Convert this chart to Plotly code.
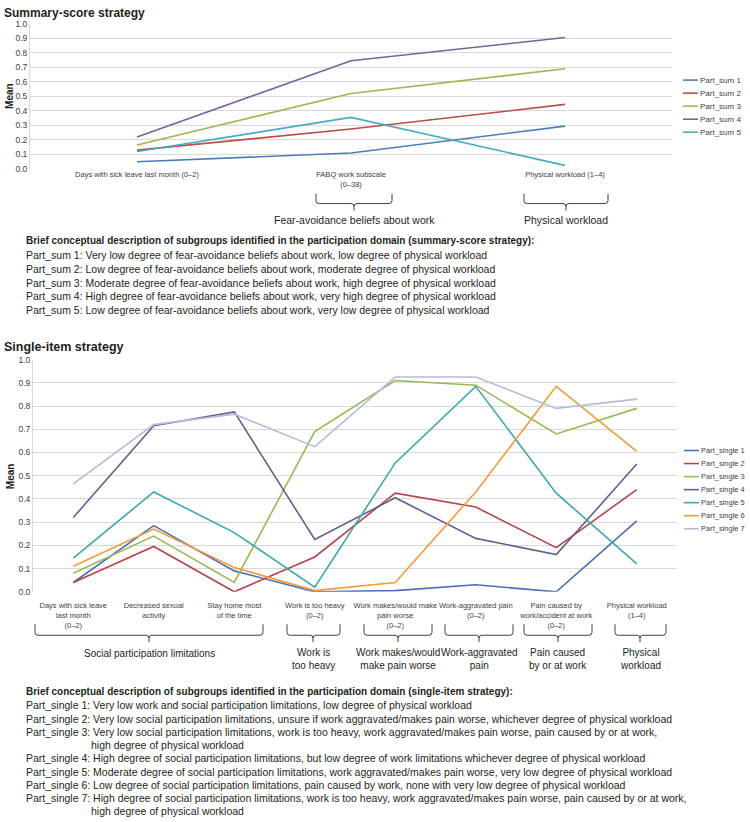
import plotly.graph_objects as go

# ---------------- data ----------------
sum_categories = [
    "Days with sick leave last month (0–2)",
    "FABQ work subscale<br>(0–38)",
    "Physical workload (1–4)",
]
sum_names = ["Part_sum 1", "Part_sum 2", "Part_sum 3", "Part_sum 4", "Part_sum 5"]
part_sum_1 = [0.05, 0.11, 0.295]
part_sum_2 = [0.13, 0.275, 0.445]
part_sum_3 = [0.165, 0.52, 0.69]
part_sum_4 = [0.22, 0.745, 0.905]
part_sum_5 = [0.12, 0.355, 0.025]
sum_series = [part_sum_1, part_sum_2, part_sum_3, part_sum_4, part_sum_5]

single_categories = [
    "Days with sick leave<br>last month<br>(0–2)",
    "Decreased sexual<br>activity",
    "Stay home most<br>of the time",
    "Work is too heavy<br>(0–2)",
    "Work makes/would make<br>pain worse<br>(0–2)",
    "Work-aggravated pain<br>(0–2)",
    "Pain caused by<br>work/accident at work<br>(0–2)",
    "Physical workload<br>(1–4)",
]
single_names = ["Part_single 1", "Part_single 2", "Part_single 3", "Part_single 4",
                "Part_single 5", "Part_single 6", "Part_single 7"]
part_single_1 = [0.04, 0.285, 0.09, 0.0, 0.005, 0.03, 0.0, 0.305]
part_single_2 = [0.04, 0.195, 0.0, 0.15, 0.425, 0.365, 0.19, 0.44]
part_single_3 = [0.08, 0.24, 0.04, 0.69, 0.91, 0.89, 0.68, 0.79]
part_single_4 = [0.32, 0.715, 0.775, 0.225, 0.405, 0.23, 0.16, 0.55]
part_single_5 = [0.145, 0.43, 0.255, 0.02, 0.555, 0.885, 0.425, 0.12]
part_single_6 = [0.11, 0.27, 0.105, 0.005, 0.04, 0.43, 0.885, 0.605]
part_single_7 = [0.465, 0.72, 0.765, 0.625, 0.925, 0.925, 0.79, 0.83]
single_series = [part_single_1, part_single_2, part_single_3, part_single_4,
                 part_single_5, part_single_6, part_single_7]

y_ticks = [0.0, 0.1, 0.2, 0.3, 0.4, 0.5, 0.6, 0.7, 0.8, 0.9, 1.0]

sum_groups = ["Fear-avoidance beliefs about work", "Physical workload"]
single_groups = ["Social participation limitations", "Work is<br>too heavy",
                 "Work makes/would<br>make pain worse", "Work-aggravated<br>pain",
                 "Pain caused<br>by or at work", "Physical<br>workload"]

sum_heading = ("Brief conceptual description of subgroups identified in the participation "
               "domain (summary-score strategy):")
sum_desc = [
    "Part_sum 1: Very low degree of fear-avoidance beliefs about work, low degree of physical workload",
    "Part_sum 2: Low degree of fear-avoidance beliefs about work, moderate degree of physical workload",
    "Part_sum 3: Moderate degree of fear-avoidance beliefs about work, high degree of physical workload",
    "Part_sum 4: High degree of fear-avoidance beliefs about work, very high degree of physical workload",
    "Part_sum 5: Low degree of fear-avoidance beliefs about work, very low degree of physical workload",
]
single_heading = ("Brief conceptual description of subgroups identified in the participation "
                  "domain (single-item strategy):")
single_desc = [
    ("Part_single 1: Very low work and social participation limitations, low degree of physical workload", False),
    ("Part_single 2: Very low social participation limitations, unsure if work aggravated/makes pain worse, whichever degree of physical workload", False),
    ("Part_single 3: Very low social participation limitations, work is too heavy, work aggravated/makes pain worse, pain caused by or at work,", False),
    ("high degree of physical workload", True),
    ("Part_single 4: High degree of social participation limitations, but low degree of work limitations whichever degree of physical workload", False),
    ("Part_single 5: Moderate degree of social participation limitations, work aggravated/makes pain worse, very low degree of physical workload", False),
    ("Part_single 6: Low degree of social participation limitations, pain caused by work, none with very low degree of physical workload", False),
    ("Part_single 7: High degree of social participation limitations, work is too heavy, work aggravated/makes pain worse, pain caused by or at work,", False),
    ("high degree of physical workload", True),
]

# ---------------- style ----------------
sum_colors = ["#4A7EBB", "#BE4B48", "#98B954", "#7D60A0", "#46AAC5"]
single_colors = ["#4A6FB5", "#B8424A", "#98B954", "#665D90", "#3AA8AC", "#F59A3A", "#B3BCDC"]
FONT = "Liberation Sans, Arial, sans-serif"
TXT = "#231F20"
GRID = "#D9D9D9"

W, H = 750, 822


def px(x):
    return x / W


def py(y):
    return 1 - y / H


fig = go.Figure()

for name, vals, col in zip(sum_names, sum_series, sum_colors):
    fig.add_trace(go.Scatter(x=sum_categories, y=vals, name=name, mode="lines",
                             line=dict(color=col, width=1.6), xaxis="x", yaxis="y",
                             showlegend=False))
for name, vals, col in zip(single_names, single_series, single_colors):
    fig.add_trace(go.Scatter(x=single_categories, y=vals, name=name, mode="lines",
                             line=dict(color=col, width=1.6), xaxis="x2", yaxis="y2",
                             showlegend=False))

axis_common_y = dict(range=[0, 1.0], tickvals=y_ticks, tickformat=".1f", showgrid=True,
                     gridcolor=GRID, gridwidth=1, zeroline=False, showline=True,
                     linecolor=GRID, linewidth=1, ticks="",
                     tickfont=dict(family=FONT, size=8.5, color="#404040"))
axis_common_x = dict(type="category", showgrid=False, zeroline=False, showline=False,
                     ticks="", tickangle=0)

fig.update_layout(
    width=W, height=H,
    margin=dict(l=0, r=0, t=0, b=0),
    paper_bgcolor="white", plot_bgcolor="white",
    showlegend=False,
    xaxis=dict(domain=[px(30), px(672)], anchor="y", categoryorder="array",
               categoryarray=sum_categories, range=[-0.5, 2.5],
               tickfont=dict(family=FONT, size=7.5, color="#404040"), **axis_common_x),
    yaxis=dict(domain=[py(166), py(19)], anchor="x", **axis_common_y),
    xaxis2=dict(domain=[px(33), px(677)], anchor="y2", categoryorder="array",
                categoryarray=single_categories, range=[-0.5, 7.5], ticklabelstandoff=8,
                tickfont=dict(family=FONT, size=7.5, color="#404040"), **axis_common_x),
    yaxis2=dict(domain=[py(594), py(359)], anchor="x2", **axis_common_y),
)

annotations = []
shapes = []


def text(x, y, s, size=11, bold=False, anchor="left", color=TXT, angle=0):
    annotations.append(dict(x=px(x), y=py(y), xref="paper", yref="paper", text=s,
                            showarrow=False, xanchor=anchor, yanchor="middle",
                            textangle=angle,
                            font=dict(family=FONT, size=size, color=color,
                                      weight="bold" if bold else "normal")))


# titles
text(2, 8, "Summary-score strategy", size=12, bold=True)
text(2, 346, "Single-item strategy", size=12.5, bold=True)
text(10, 92, "Mean", size=10, bold=True, anchor="center", angle=-90)
text(10, 477, "Mean", size=10, bold=True, anchor="center", angle=-90)


# braces
def brace(x1, x2, xm, y0, y1, y2):
    r = 3
    p = [
        (x1, y0), (x1, y1 - r), (x1, y1), (x1 + r, y1), (xm - r, y1), (xm, y1), (xm, y1 + r),
        (xm, y2), (xm, y1 + r), (xm, y1), (xm + r, y1), (x2 - r, y1), (x2, y1), (x2, y1 - r), (x2, y0)
    ]
    c = [(px(a), py(b)) for a, b in p]
    path = ("M {0[0]},{0[1]} L {1[0]},{1[1]} Q {2[0]},{2[1]} {3[0]},{3[1]} L {4[0]},{4[1]} "
            "Q {5[0]},{5[1]} {6[0]},{6[1]} L {7[0]},{7[1]} M {8[0]},{8[1]} "
            "Q {9[0]},{9[1]} {10[0]},{10[1]} L {11[0]},{11[1]} Q {12[0]},{12[1]} {13[0]},{13[1]} "
            "L {14[0]},{14[1]}").format(*c)
    shapes.append(dict(type="path", path=path, xref="paper", yref="paper",
                       line=dict(color="#404040", width=1)))


brace(316, 392, 354, 191, 201, 208)
brace(524, 608, 566, 191, 201, 208)
text(354, 218, sum_groups[0], size=10.5, anchor="center")
text(566, 218, sum_groups[1], size=10.5, anchor="center")

single_braces = [(35, 263, 149), (287, 340, 313), (364, 432, 398),
                 (445, 513, 479), (524, 592, 558), (615, 666, 640)]
for (a, b, m), g in zip(single_braces, single_groups):
    brace(a, b, m, 627, 638, 645)
    text(m, 662 if "<br>" in g else 656, g, size=10, anchor="center")

# description blocks
text(24, 238, sum_heading, size=10, bold=True)
for i, s in enumerate(sum_desc):
    text(24, 253 + 14 * i, s, size=10.5)

text(24, 695, single_heading, size=10, bold=True)
for i, (s, indent) in enumerate(single_desc):
    text(89 if indent else 24, 709 + 13.4 * i, s, size=10.5)

# manual legends
for i, (name, col) in enumerate(zip(sum_names, sum_colors)):
    y = 76 + 13.2 * i
    shapes.append(dict(type="line", xref="paper", yref="paper", x0=px(683), x1=px(698),
                       y0=py(y), y1=py(y), line=dict(color=col, width=1.6)))
    text(698, y, name, size=8, color="#404040")

for i, (name, col) in enumerate(zip(single_names, single_colors)):
    y = 451 + 13.2 * i
    shapes.append(dict(type="line", xref="paper", yref="paper", x0=px(684), x1=px(699),
                       y0=py(y), y1=py(y), line=dict(color=col, width=1.6)))
    text(699, y, name, size=7.5, color="#404040")

fig.update_layout(annotations=annotations, shapes=shapes)
fig.write_html("out.html", config={"displayModeBar": False},
               post_script="document.body.style.margin='0px';")
